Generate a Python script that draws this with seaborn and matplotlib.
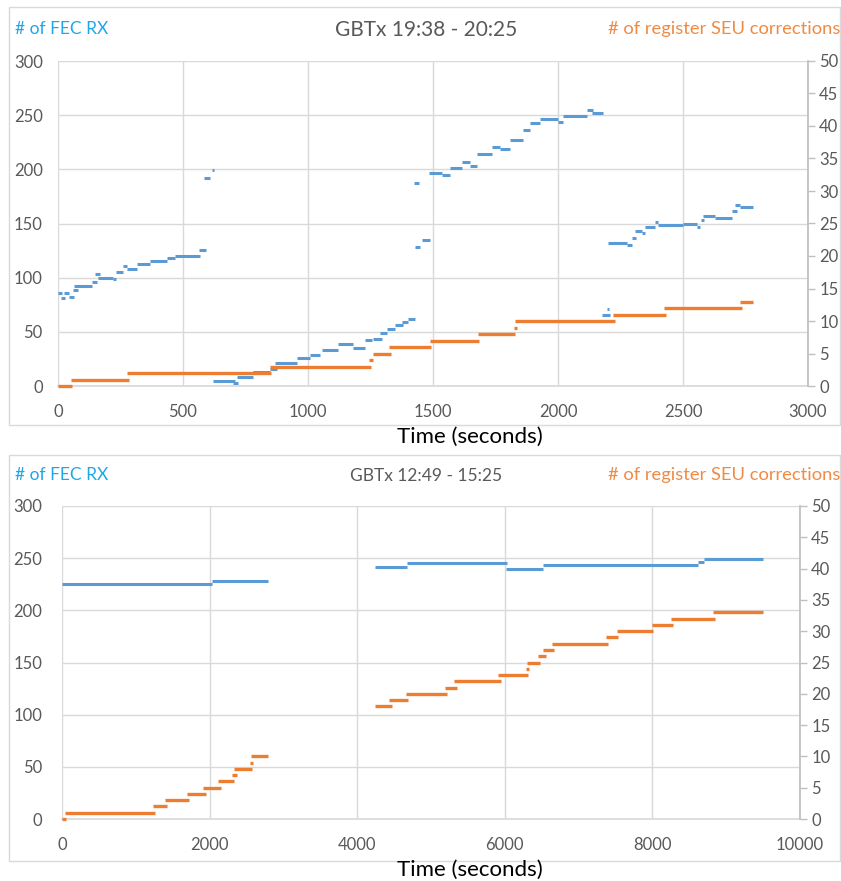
import matplotlib
matplotlib.use("Agg")
import matplotlib.pyplot as plt
import seaborn as sns
import pandas as pd
from matplotlib.patches import Rectangle
from matplotlib.ticker import MultipleLocator

sns.set_theme(style="white")
plt.rcParams['font.family'] = ['Lato', 'DejaVu Sans']

# ---------------- data: top chart (GBTx 19:38 - 20:25) ----------------
top_fec_start = [0, 12, 24, 44, 60, 64, 136, 148, 160, 220, 232, 260, 276, 316, 368, 436, 468, 564,
                 584, 616,
                 620, 700, 716, 780, 848, 868, 956, 1008, 1056, 1120, 1180, 1228, 1260, 1288, 1316, 1348, 1376, 1400,
                 1424, 1428, 1456,
                 1484, 1536, 1568, 1616, 1648, 1676, 1736, 1768, 1808, 1860, 1888, 1928, 2000, 2020, 2116, 2136,
                 2176, 2196,
                 2200, 2276, 2296, 2308, 2336, 2348, 2388, 2400, 2500, 2556, 2570, 2580, 2628, 2696, 2708, 2728]
top_fec_end = [16, 28, 44, 64, 80, 136, 156, 168, 220, 232, 260, 276, 316, 368, 436, 468, 568, 592,
               608, 624,
               708, 720, 780, 848, 876, 956, 1008, 1048, 1120, 1180, 1228, 1256, 1296, 1316, 1348, 1380, 1400, 1428,
               1444, 1448, 1488,
               1536, 1568, 1616, 1648, 1676, 1736, 1768, 1808, 1860, 1888, 1928, 2000, 2020, 2116, 2140, 2180,
               2208, 2204,
               2276, 2296, 2312, 2336, 2348, 2388, 2400, 2500, 2556, 2568, 2584, 2628, 2696, 2716, 2728, 2780]
top_fec_val = [86, 81, 86, 82, 89, 92, 96, 103, 100, 99, 105, 111, 108, 113, 115, 118, 120, 126,
               192, 199,
               5, 2.5, 8, 13, 16, 21, 25.5, 29, 33, 39, 35, 42.5, 43, 48.6, 52.5, 56, 59, 62,
               187, 128, 135,
               197, 195, 201, 207, 203, 214, 221, 219, 227, 236, 242.5, 246.5, 244, 249, 255, 252,
               65.5, 71,
               132, 130, 137, 143, 141, 147, 151, 148.6, 150, 147, 153, 157, 155.4, 162, 167, 165]

top_seu_start = [0, 52, 276, 848, 1244, 1260, 1324, 1488, 1680, 1824, 1828, 2220, 2424, 2728]
top_seu_end = [56, 284, 852, 1252, 1260, 1332, 1492, 1684, 1828, 1836, 2228, 2432, 2736, 2780]
top_seu_val = [0, 1, 2, 3, 4, 5, 6, 7, 8, 9, 10, 11, 12, 13]

# ---------------- data: bottom chart (GBTx 12:49 - 15:25) ----------------
bot_fec_start = [0, 2033, 4240, 4675, 6016, 6520, 8620, 8700]
bot_fec_end = [2033, 2790, 4675, 6030, 6520, 8620, 8700, 9500]
bot_fec_val = [225, 228, 242, 245, 240, 243, 246, 249]

bot_seu_start = [0, 40, 1233, 1396, 1694, 1910, 2114, 2304, 2331, 2547, 2561,
                 4241, 4431, 4661, 5190, 5312, 5908, 6287, 6300, 6450, 6517, 6640, 7371, 7520, 7994, 8252, 8821]
bot_seu_end = [54, 1260, 1423, 1721, 1951, 2154, 2331, 2371, 2575, 2588, 2791,
               4471, 4688, 5217, 5352, 5948, 6314, 6328, 6477, 6558, 6667, 7400, 7534, 8008, 8279, 8848, 9499]
bot_seu_val = [0, 1, 2, 3, 4, 5, 6, 7, 8, 9, 10,
               18, 19, 20, 21, 22, 23, 24, 25, 26, 27, 28, 29, 30, 31, 32, 33]

x_label = "Time (seconds)"
left_label = "# of FEC RX"
right_label = "# of register SEU corrections"
titles = ["GBTx 19:38 - 20:25", "GBTx 12:49 - 15:25"]

BLUE = "#5b9bd5"
ORANGE = "#ed7d31"
GRID = "#d9d9d9"
TXT = "#595959"

W, H = 841, 881


def segs_df(starts, ends, vals):
    rows = []
    for i, (s, e, v) in enumerate(zip(starts, ends, vals)):
        rows.append({"t": s, "v": v, "seg": i})
        rows.append({"t": e, "v": v, "seg": i})
    return pd.DataFrame(rows)


def fx(px):
    return px / W


def fy(py):
    return 1 - py / H


fig = plt.figure(figsize=(W / 100, H / 100), dpi=100)
fig.patch.set_facecolor("white")

# frames around the two charts
for (y0, y1) in [(7, 425), (455, 861)]:
    fig.patches.append(Rectangle((fx(9), fy(y1)), fx(840) - fx(9), fy(y0) - fy(y1),
                                 transform=fig.transFigure, fill=False, ec=GRID, lw=1.0))

panels = [
    dict(box=(58, 61, 808, 386), xmax=3000, xstep=500,
         fec=(top_fec_start, top_fec_end, top_fec_val),
         seu=(top_seu_start, top_seu_end, top_seu_val),
         title=titles[0], tsize=15, head_y=29, tx=426, xlab_y=437, lpad=11),
    dict(box=(62, 506, 800, 819), xmax=10000, xstep=2000,
         fec=(bot_fec_start, bot_fec_end, bot_fec_val),
         seu=(bot_seu_start, bot_seu_end, bot_seu_val),
         title=titles[1], tsize=12.5, head_y=475, tx=426, xlab_y=870, lpad=14),
]

for p in panels:
    l, t, r, b = p["box"]
    ax = fig.add_axes([fx(l), fy(b), fx(r) - fx(l), fy(t) - fy(b)])
    ax2 = ax.twinx()

    ax.set_xlim(0, p["xmax"])
    ax.set_ylim(0, 300)
    ax2.set_ylim(0, 50)
    ax.xaxis.set_major_locator(MultipleLocator(p["xstep"]))
    ax.yaxis.set_major_locator(MultipleLocator(50))
    ax2.yaxis.set_major_locator(MultipleLocator(5))

    ax.grid(True, color=GRID, lw=1.0)
    ax.set_axisbelow(True)
    for s in ["top", "left", "right"]:
        ax.spines[s].set_visible(False)
    ax.spines["bottom"].set_color(GRID)
    for s in ["top", "left", "bottom"]:
        ax2.spines[s].set_visible(False)
    ax2.spines["right"].set_color("#bfbfbf")

    ax.tick_params(axis="x", length=0, pad=13, labelsize=12, labelcolor=TXT)
    ax.tick_params(axis="y", length=0, pad=p["lpad"], labelsize=12, labelcolor=TXT)
    ax2.tick_params(axis="y", length=5, width=1, color="#bfbfbf", pad=3, labelsize=12, labelcolor=TXT)
    ax2.grid(False)

    sns.lineplot(data=segs_df(*p["fec"]), x="t", y="v", units="seg", estimator=None,
                 color=BLUE, lw=2.2, ax=ax, legend=False, solid_capstyle="butt")
    sns.lineplot(data=segs_df(*p["seu"]), x="t", y="v", units="seg", estimator=None,
                 color=ORANGE, lw=2.4, ax=ax2, legend=False, solid_capstyle="butt")
    for a in (ax, ax2):
        a.set_xlabel("")
        a.set_ylabel("")
        for ln in a.get_lines():
            ln.set_clip_on(False)
    ax.set_xlim(0, p["xmax"])

    fig.text(fx(15), fy(p["head_y"]), left_label, color="#1ea7e8", fontsize=12.5,
             ha="left", va="center")
    fig.text(fx(840), fy(p["head_y"]), right_label, color="#f08a44", fontsize=13.2,
             ha="right", va="center")
    fig.text(fx(p["tx"]), fy(p["head_y"] + 1), p["title"], color=TXT, fontsize=p["tsize"],
             ha="center", va="center")
    fig.text(fx(470), fy(p["xlab_y"]), x_label, color="black", fontsize=16,
             ha="center", va="center")

fig.savefig("out.png", dpi=100, facecolor="white")
